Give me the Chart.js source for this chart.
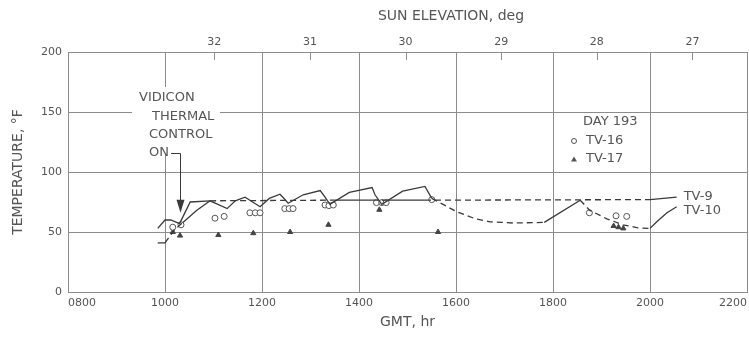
<!DOCTYPE html>
<html>
<head>
<meta charset="utf-8">
<script src="https://cdn.jsdelivr.net/npm/chart.js@4.4.1/dist/chart.umd.min.js"></script>
<style>
    html, body { margin: 0; padding: 0; background: #fff; }
</style>
</head>
<body>
<canvas id="tempChart" width="749" height="337"></canvas>
<script>
// GMT axis (hr) and its labels
const gmtTicks = [800, 1000, 1200, 1400, 1600, 1800, 2000, 2200];
const gmtLabels = ["0800", "1000", "1200", "1400", "1600", "1800", "2000", "2200"];

// sun elevation (deg), top axis
const sunTicks = [32, 31, 30, 29, 28, 27];
const sunAtLeft = 33.53;
const sunAtRight = 26.43;

const tempTicks = [0, 50, 100, 150, 200];

// TV-9, measured (solid) and estimated (dashed); null breaks the line
const tv9SolidHr   = [985, 1000, 1012, 1030, 1052, 1093, 1200, 1340, 1427, 1435, 1447, 1536, 1700, 2000, 2055];
const tv9SolidTemp = [53,  60,   60,   57,   75,   76,   null, 76.5, 76.5, null, 76.5, 76.5, null, 77,   79];
const tv9DashHr    = [1093, 1340, 1380, 1427, 1447, 1500, 1536, 2000];
const tv9DashTemp  = [76,   76.5, null, 76.5, 76.5, null, 76.5, 77];

// TV-10, sawtooth
const tv10SolidHr   = [985, 1000, 1020, 1037, 1065, 1093, 1128, 1145, 1165, 1171, 1196, 1215, 1237, 1243, 1254, 1285, 1320, 1330, 1340, 1380, 1427, 1433, 1447, 1490, 1536, 1550, 1700, 1782, 1856, 1950, 2000, 2014, 2035, 2055];
const tv10SolidTemp = [41,  41,   null, 58,   68,   76,   69.5, 76,   79,   77.5, 71,   78,   81.5, 79,   74,   81,   84.5, 79,   73,   83,   87,   81,   73,   84,   88,   78,   null, 58,   76.5, null, 53,   58.5, 66,   71];
const tv10DashHr    = [1000, 1020, 1037, 1300, 1550, 1601, 1640, 1670, 1718, 1782, 1820, 1856, 1876, 1911, 1944, 1975, 2000];
const tv10DashTemp  = [41,   52,   58,   null, 78,   67,   61,   58.5, 57.5, 58,   null, 76.5, 68,   61,   56,   53.5, 53];

// DAY 193 points
const tv16Hr   = [1016, 1033, 1103, 1122, 1175, 1186, 1196, 1247, 1256, 1264, 1330, 1338, 1347, 1436, 1447, 1456, 1550, 1875, 1930, 1952];
const tv16Temp = [54,   56,   61.5, 63,   66,   66,   66,   69.5, 69.5, 69.5, 72.5, 72,   72.5, 74.5, 74.5, 74.5, 77,   66,   63.5, 63];
const tv17Hr   = [1016, 1031, 1110, 1182, 1258, 1337, 1442, 1563, 1925, 1935, 1945];
const tv17Temp = [50,   47,   47.5, 49,   50,   56,   68.5, 50,   55,   54,   53];

// where the "thermal control on" arrow points
const arrowHr = 1030;
const arrowTemp = 66;

/* styles */
const FONT = "'DejaVu Sans', sans-serif";
const TEXT = "#555";
const GRID = "#8c8c8c";
const LINE = "#3a3a3a";

function toPoints(hrs, temps) {
    return hrs.map((h, i) => ({ x: h, y: temps[i] }));
}

function noPadding(s) {
    s.paddingLeft = 0;
    s.paddingRight = 0;
    s.paddingTop = 0;
    s.paddingBottom = 0;
}

const annotations = {
    id: "annotations",
    beforeDatasetsDraw(chart) {
        // blank out the grid behind the vidicon note
        const ctx = chart.ctx;
        ctx.save();
        ctx.fillStyle = "#fff";
        ctx.fillRect(132, 87, 88, 67);
        ctx.restore();
    },
    afterDraw(chart) {
        const { ctx, chartArea, scales } = chart;
        const x = scales.x, y = scales.y, x2 = scales.x2;
        ctx.save();

        // sun elevation tick marks hang inside the frame
        ctx.strokeStyle = GRID;
        ctx.lineWidth = 1;
        x2.ticks.forEach(t => {
            const px = Math.round(x2.getPixelForValue(t.value)) + 0.5;
            ctx.beginPath();
            ctx.moveTo(px, chartArea.top);
            ctx.lineTo(px, chartArea.top + 8);
            ctx.stroke();
        });

        ctx.fillStyle = TEXT;
        ctx.textBaseline = "middle";
        ctx.textAlign = "center";
        ctx.font = `14px ${FONT}`;
        ctx.fillText("SUN ELEVATION, deg", 451, 16);

        // vidicon note
        ctx.textAlign = "left";
        ctx.font = `13px ${FONT}`;
        ctx.fillText("VIDICON", 139, 98);
        ctx.fillText("THERMAL", 152, 117);
        ctx.fillText("CONTROL", 149, 135);
        ctx.fillText("ON", 149, 153);

        const ax = Math.round(x.getPixelForValue(arrowHr)) + 0.5;
        const ay = y.getPixelForValue(arrowTemp);
        ctx.strokeStyle = LINE;
        ctx.beginPath();
        ctx.moveTo(171, 153.5);
        ctx.lineTo(ax, 153.5);
        ctx.lineTo(ax, ay - 12);
        ctx.stroke();
        ctx.fillStyle = LINE;
        ctx.beginPath();
        ctx.moveTo(ax - 4, ay - 13);
        ctx.lineTo(ax + 4, ay - 13);
        ctx.lineTo(ax, ay);
        ctx.closePath();
        ctx.fill();

        // key
        ctx.fillStyle = TEXT;
        ctx.fillText("DAY 193", 583, 122);
        ctx.fillText("TV-16", 586, 141);
        ctx.fillText("TV-17", 586, 159);
        ctx.strokeStyle = TEXT;
        ctx.beginPath();
        ctx.arc(574, 141, 2.5, 0, Math.PI * 2);
        ctx.stroke();
        ctx.beginPath();
        ctx.moveTo(574, 156.5);
        ctx.lineTo(577, 161.5);
        ctx.lineTo(571, 161.5);
        ctx.closePath();
        ctx.fill();

        // line names at the end of each curve
        const n9 = tv9SolidHr.length - 1;
        const n10 = tv10SolidHr.length - 1;
        ctx.fillText("TV-9", x.getPixelForValue(tv9SolidHr[n9]) + 7, y.getPixelForValue(tv9SolidTemp[n9]) - 1);
        ctx.fillText("TV-10", x.getPixelForValue(tv10SolidHr[n10]) + 7, y.getPixelForValue(tv10SolidTemp[n10]) + 4);

        ctx.restore();
    }
};

const lineStyle = {
    borderColor: LINE,
    borderWidth: 1.3,
    pointRadius: 0,
    spanGaps: false,
    tension: 0,
    fill: false
};

const ctx = document.getElementById("tempChart");

const chart = new Chart(ctx, {
    type: "line",
    data: {
        datasets: [
            { label: "TV-9", data: toPoints(tv9SolidHr, tv9SolidTemp), ...lineStyle },
            { label: "TV-9 est", data: toPoints(tv9DashHr, tv9DashTemp), ...lineStyle, borderDash: [6, 4] },
            { label: "TV-10", data: toPoints(tv10SolidHr, tv10SolidTemp), ...lineStyle },
            { label: "TV-10 est", data: toPoints(tv10DashHr, tv10DashTemp), ...lineStyle, borderDash: [6, 4] },
            {
                label: "TV-16",
                data: toPoints(tv16Hr, tv16Temp),
                showLine: false,
                pointStyle: "circle",
                pointRadius: 3,
                pointBorderWidth: 1,
                pointBorderColor: "#555",
                pointBackgroundColor: "#fff"
            },
            {
                label: "TV-17",
                data: toPoints(tv17Hr, tv17Temp),
                showLine: false,
                pointStyle: "triangle",
                pointRadius: 3,
                pointBorderWidth: 1,
                pointBorderColor: "#444",
                pointBackgroundColor: "#444"
            }
        ]
    },
    options: {
        responsive: false,
        animation: false,
        devicePixelRatio: 1,
        layout: { autoPadding: false, padding: { right: 2, left: 0, top: 0, bottom: 0 } },
        plugins: {
            legend: { display: false },
            tooltip: { enabled: false }
        },
        scales: {
            x: {
                type: "linear",
                position: "bottom",
                min: 800,
                max: 2200,
                afterBuildTicks: s => { s.ticks = gmtTicks.map(v => ({ value: v })); },
                afterFit: s => { s.height = 45; noPadding(s); },
                ticks: {
                    align: "inner",
                    padding: 5,
                    color: TEXT,
                    font: { family: FONT, size: 11 },
                    callback: v => gmtLabels[gmtTicks.indexOf(v)]
                },
                grid: { color: GRID, drawTicks: false },
                border: { color: GRID },
                title: {
                    display: true,
                    text: "GMT, hr",
                    color: TEXT,
                    font: { family: FONT, size: 14 },
                    padding: { top: 0, bottom: 6 }
                }
            },
            x2: {
                type: "linear",
                position: "top",
                min: sunAtRight,
                max: sunAtLeft,
                reverse: true,
                afterBuildTicks: s => { s.ticks = sunTicks.map(v => ({ value: v })); },
                afterFit: s => { s.height = 52; noPadding(s); },
                ticks: {
                    padding: 3,
                    color: TEXT,
                    font: { family: FONT, size: 11 }
                },
                grid: { display: false, drawTicks: false },
                border: { display: false }
            },
            y: {
                min: 0,
                max: 200,
                afterBuildTicks: s => { s.ticks = tempTicks.map(v => ({ value: v })); },
                afterFit: s => { s.width = 68; noPadding(s); },
                ticks: {
                    padding: 6,
                    color: TEXT,
                    font: { family: FONT, size: 11 }
                },
                grid: { color: GRID, drawTicks: false },
                border: { color: GRID },
                title: {
                    display: true,
                    text: "TEMPERATURE, °F",
                    color: TEXT,
                    font: { family: FONT, size: 14 },
                    padding: { top: 10, bottom: 0 }
                }
            }
        }
    },
    plugins: [annotations]
});
</script>
</body>
</html>
